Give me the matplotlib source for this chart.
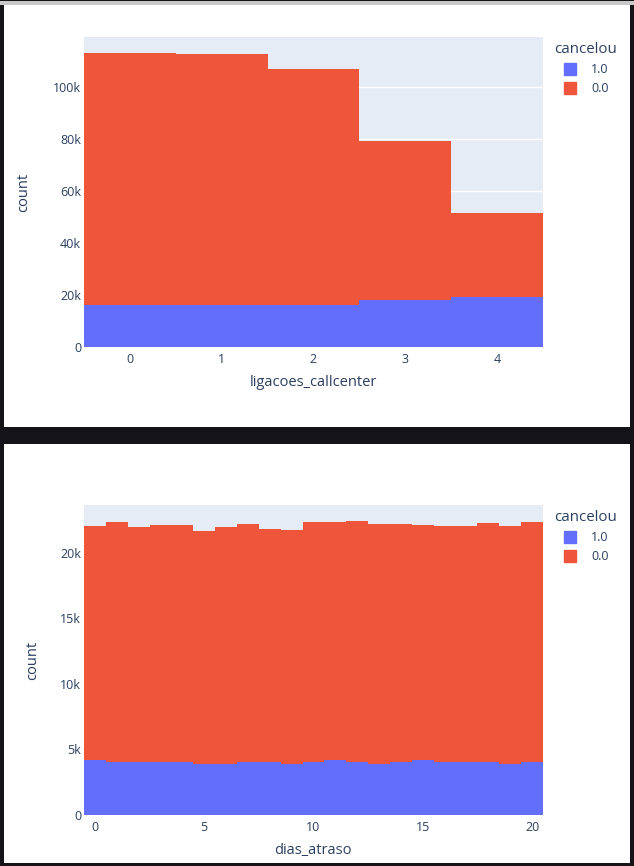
import matplotlib
matplotlib.use("Agg")
import matplotlib.pyplot as plt
from matplotlib.patches import Rectangle
from matplotlib.lines import Line2D
from matplotlib.ticker import FuncFormatter

# ligacoes_callcenter histogram (counts per bin, by cancelou)
calls_bins = [0, 1, 2, 3, 4]
calls_cancel_1 = [16000, 16000, 16000, 17950, 19100]
calls_cancel_0 = [96960, 96600, 90800, 61150, 32400]

# dias_atraso histogram
days_bins = list(range(21))
days_cancel_1 = [4174, 4021, 4072, 4021, 4021, 3868, 3920, 4072, 4021, 3868, 4072,
                 4225, 4072, 3920, 4021, 4174, 4072, 4021, 4021, 3920, 4072]
days_total = [22030, 22340, 21950, 22110, 22110, 21650, 21950, 22185, 21800, 21725, 22340,
              22340, 22410, 22185, 22185, 22110, 22030, 22030, 22260, 22030, 22340]
days_cancel_0 = [t - c for t, c in zip(days_total, days_cancel_1)]

legend_labels = ["1.0", "0.0"]

BLUE = "#636efa"
RED = "#EF553B"
PLOT_BG = "#E5ECF6"
TEXT = "#2a3f5f"
DARK = "#131318"

W, H = 634, 866
plt.rcParams["font.family"] = ["Open Sans", "DejaVu Sans"]

fig = plt.figure(figsize=(W / 100, H / 100), dpi=100, facecolor=DARK)


def px_rect(x0, y0, x1, y1):
    return [x0 / W, 1 - y1 / H, (x1 - x0) / W, (y1 - y0) / H]


# white cards and the grey strip at the top
for (x0, y0, x1, y1), col in [((4, 5, 630, 427), "white"),
                               ((4, 444, 630, 863), "white"),
                               ((0, 1, 634, 5), "#c8c8c8")]:
    r = px_rect(x0, y0, x1, y1)
    fig.patches.append(Rectangle((r[0], r[1]), r[2], r[3], transform=fig.transFigure,
                                 facecolor=col, edgecolor="none", zorder=-5))


def k_fmt(v, _):
    return "0" if v == 0 else "%gk" % (v / 1000)


def draw_hist(rect, bins, c1, c0, ymax, yticks, xticks, xlabel, ylabel_x, legend_top):
    ax = fig.add_axes(px_rect(*rect))
    ax.set_facecolor(PLOT_BG)
    ax.bar(bins, c1, width=1.0, color=BLUE, linewidth=0, zorder=2)
    ax.bar(bins, c0, width=1.0, bottom=c1, color=RED, linewidth=0, zorder=2)
    ax.set_xlim(bins[0] - 0.5, bins[-1] + 0.5)
    ax.set_ylim(0, ymax)
    ax.set_yticks(yticks)
    ax.yaxis.set_major_formatter(FuncFormatter(k_fmt))
    ax.set_xticks(xticks)
    ax.grid(axis="y", color="white", linewidth=1.0, zorder=1)
    ax.set_axisbelow(True)
    for s in ax.spines.values():
        s.set_visible(False)
    ax.tick_params(length=0, labelsize=9, labelcolor=TEXT)
    ax.tick_params(axis="y", pad=2)
    ax.tick_params(axis="x", pad=4)

    ax.set_xlabel(xlabel, fontsize=10.5, color=TEXT, va="center")
    ax.xaxis.set_label_coords(0.499, -0.113)
    ax.set_ylabel("count", fontsize=10.5, color=TEXT, va="center")
    ax.yaxis.set_label_coords(ylabel_x, 0.5)

    handles = [Line2D([], [], ls="none", marker="s", markersize=8.6, color=BLUE),
               Line2D([], [], ls="none", marker="s", markersize=8.6, color=RED)]
    leg = ax.legend(handles, legend_labels, title="cancelou", loc="upper left",
                    bbox_to_anchor=(554 / W, 1 - legend_top / H),
                    bbox_transform=fig.transFigure, frameon=False,
                    borderpad=0, borderaxespad=0, handlelength=2.6,
                    handletextpad=0.35, labelspacing=0.5,
                    prop={"size": 9}, title_fontproperties={"size": 10.8})
    leg._legend_box.align = "left"
    for t in leg.get_texts():
        t.set_color(TEXT)
    leg.get_title().set_color(TEXT)
    return ax


draw_hist((84, 37, 543, 347), calls_bins, calls_cancel_1, calls_cancel_0,
          119230, [0, 20000, 40000, 60000, 80000, 100000], [0, 1, 2, 3, 4],
          "ligacoes_callcenter", -0.131, 42)

draw_hist((84, 505, 543, 815), days_bins, days_cancel_1, days_cancel_0,
          23660, [0, 5000, 10000, 15000, 20000], [0, 5, 10, 15, 20],
          "dias_atraso", -0.113, 510)

fig.savefig("out.png", dpi=100, facecolor=DARK)
